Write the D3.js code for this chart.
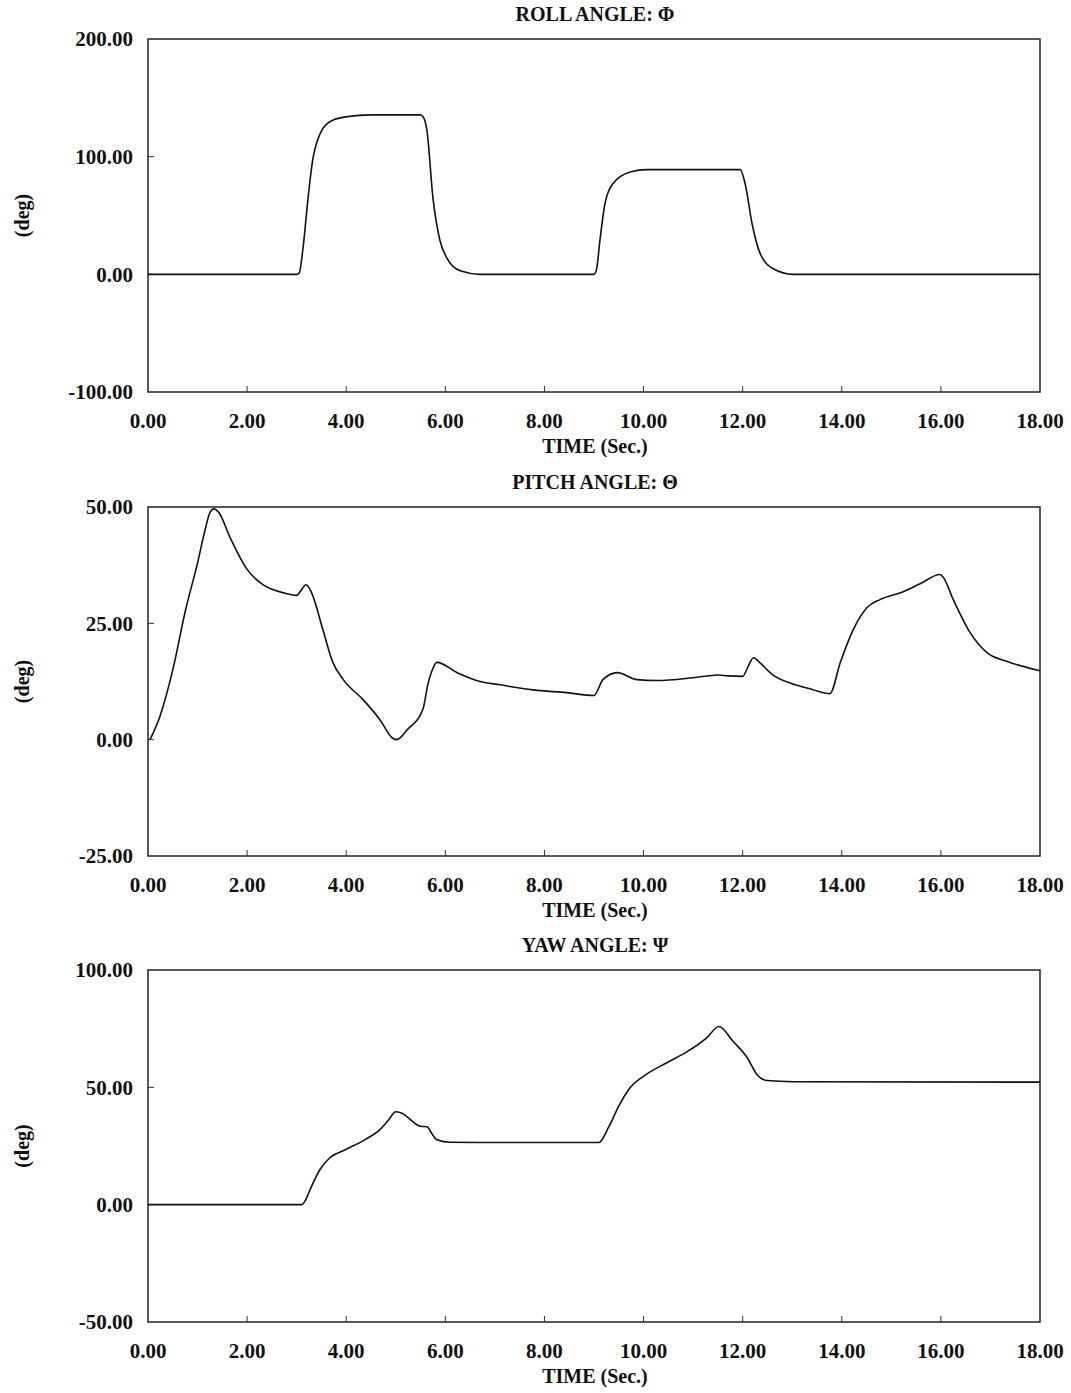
<!DOCTYPE html>
<html>
<head>
<meta charset="utf-8">
<script src="https://cdn.jsdelivr.net/npm/d3@7"></script>
<style>
  body { margin: 0; background: #fff; }
  svg text { font-family: "Liberation Serif", "DejaVu Serif", serif; fill: #111; }
</style>
</head>
<body>
<svg id="chart"></svg>
<script>
// time ticks shared by all three panels
const timeTicks = [0, 2, 4, 6, 8, 10, 12, 14, 16, 18];

// roll angle (deg) vs time (sec)
const rollData = [
  [0, 0], [3.0, 0], [3.05, 1], [3.13, 23], [3.23, 65], [3.33, 99], [3.43, 115], [3.53, 124],
  [3.73, 131], [4.02, 134], [4.5, 135.5], [5.49, 135.5], [5.55, 134], [5.63, 122],
  [5.75, 65], [5.89, 29], [6.03, 14], [6.3, 3], [6.7, 0], [9.0, 0], [9.05, 4],
  [9.12, 29], [9.22, 60], [9.38, 77], [9.73, 87], [10.07, 89], [11.95, 89],
  [12.05, 77], [12.19, 43], [12.35, 18], [12.61, 5], [13.02, 0], [18, 0]
];

// pitch angle (deg) vs time (sec)
const pitchData = [
  [0.04, 0], [0.24, 5], [0.5, 15], [0.75, 27.5], [1.0, 38], [1.15, 45], [1.25, 48.8],
  [1.33, 49.6], [1.43, 48.8], [1.65, 43.6], [2.0, 36.6], [2.32, 33.3],
  [2.72, 31.6], [3.0, 31], [3.07, 31.8], [3.19, 33.3], [3.3, 31.6], [3.53, 23.6],
  [3.73, 16.6], [3.94, 12.9], [4.34, 8.6], [4.68, 4.3], [4.94, 0.3], [5.02, 0],
  [5.23, 2.1], [5.55, 6.6], [5.65, 12.0], [5.73, 14.8], [5.83, 16.6], [6.24, 14.4],
  [6.7, 12.5], [7.1, 11.8], [7.77, 10.7], [8.45, 10.1], [9.0, 9.5], [9.18, 12.9],
  [9.47, 14.4], [9.87, 12.9], [10.27, 12.7], [11.0, 13.3], [11.5, 13.9], [11.7, 13.7],
  [12.0, 13.6], [12.1, 15.5], [12.22, 17.6], [12.35, 16.5], [12.6, 14], [13.0, 12],
  [13.4, 10.8], [13.76, 9.9], [13.97, 16.6], [14.23, 23.6], [14.51, 28.4],
  [14.77, 30.1], [15.24, 31.8], [15.58, 33.5], [15.98, 35.5], [16.04, 35],
  [16.25, 30.1], [16.59, 23], [16.93, 18.7], [17.34, 16.8], [18, 14.8]
];

// yaw angle (deg) vs time (sec)
const yawData = [
  [0, 0], [3.1, 0], [3.18, 2], [3.27, 6.4], [3.47, 15], [3.67, 20], [3.98, 23.4],
  [4.38, 27.7], [4.68, 32], [4.85, 36], [5.0, 39.6], [5.1, 39.2], [5.5, 33.4],
  [5.63, 33.2], [5.72, 30.5], [5.83, 27.7], [6.1, 26.6], [7.0, 26.5], [9.1, 26.5],
  [9.29, 32.8], [9.5, 42], [9.73, 49.9], [9.99, 54.6], [10.47, 60.5], [10.88, 65.2],
  [11.28, 71.2], [11.52, 75.9], [11.81, 69.5], [12.09, 62.7], [12.29, 55.4],
  [12.49, 52.9], [13.02, 52.4], [18, 52.2]
];

const panels = [
  { title: "ROLL ANGLE: \u03A6", ylabel: "(deg)", data: rollData, domain: [-100, 200], ticks: [-100, 0, 100, 200], top: 39, height: 353 },
  { title: "PITCH ANGLE: \u0398", ylabel: "(deg)", data: pitchData, domain: [-25, 50], ticks: [-25, 0, 25, 50], top: 507, height: 349 },
  { title: "YAW ANGLE:  \u03A8", ylabel: "(deg)", data: yawData, domain: [-50, 100], ticks: [-50, 0, 50, 100], top: 970, height: 352 }
];

const width = 1071, height = 1393;
const left = 148, right = 1040;

const svg = d3.select("#chart").attr("width", width).attr("height", height);

const x = d3.scaleLinear().domain([0, 18]).range([left, right]);

panels.forEach((p) => {
  const y = d3.scaleLinear().domain(p.domain).range([p.top + p.height, p.top]);
  const g = svg.append("g");

  // frame
  g.append("rect")
    .attr("x", left)
    .attr("y", p.top)
    .attr("width", right - left)
    .attr("height", p.height)
    .attr("fill", "none")
    .attr("stroke", "#222")
    .attr("stroke-width", 1.5);

  // small inward tick marks
  g.selectAll(".xt")
    .data(timeTicks.slice(1, -1))
    .enter()
    .append("line")
    .attr("x1", (d) => x(d))
    .attr("x2", (d) => x(d))
    .attr("y1", p.top + p.height)
    .attr("y2", p.top + p.height - 6)
    .attr("stroke", "#333");
  g.selectAll(".yt")
    .data(p.ticks.slice(1, -1))
    .enter()
    .append("line")
    .attr("x1", left)
    .attr("x2", left + 6)
    .attr("y1", (d) => y(d))
    .attr("y2", (d) => y(d))
    .attr("stroke", "#333");

  // x tick labels
  g.selectAll(".xl")
    .data(timeTicks)
    .enter()
    .append("text")
    .attr("x", (d) => x(d))
    .attr("y", p.top + p.height + 36)
    .attr("text-anchor", "middle")
    .style("font-size", "21px")
    .style("font-weight", "bold")
    .text((d) => d.toFixed(2));

  // y tick labels
  g.selectAll(".yl")
    .data(p.ticks)
    .enter()
    .append("text")
    .attr("x", 133)
    .attr("y", (d) => y(d))
    .attr("dy", "0.35em")
    .attr("text-anchor", "end")
    .style("font-size", "21px")
    .style("font-weight", "bold")
    .text((d) => d.toFixed(2));

  // title
  g.append("text")
    .attr("x", 595)
    .attr("y", p.top - 18)
    .attr("text-anchor", "middle")
    .style("font-size", "20px")
    .style("font-weight", "bold")
    .text(p.title);

  // x axis label
  g.append("text")
    .attr("x", 595)
    .attr("y", p.top + p.height + 61)
    .attr("text-anchor", "middle")
    .style("font-size", "20px")
    .style("font-weight", "bold")
    .text("TIME (Sec.)");

  // y axis label
  g.append("text")
    .attr("transform", `translate(29,${p.top + p.height / 2}) rotate(-90)`)
    .attr("text-anchor", "middle")
    .style("font-size", "20px")
    .style("font-weight", "bold")
    .text(p.ylabel);

  // data line
  const line = d3.line()
    .x((d) => x(d[0]))
    .y((d) => y(d[1]))
    .curve(d3.curveMonotoneX);

  g.append("path")
    .datum(p.data)
    .attr("fill", "none")
    .attr("stroke", "#111")
    .attr("stroke-width", 1.6)
    .attr("d", line);
});
</script>
</body>
</html>
